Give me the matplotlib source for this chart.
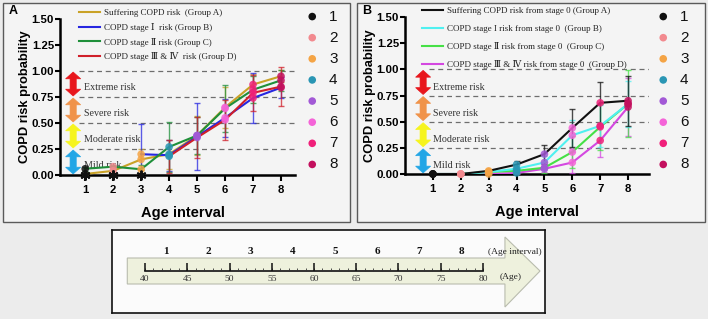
import matplotlib
matplotlib.use('Agg')
import matplotlib.pyplot as plt
import numpy as np
from matplotlib.patches import Rectangle, Polygon

W, H = 708, 319
DPI = 100

# ---------------- data ----------------
intervals = [1, 2, 3, 4, 5, 6, 7, 8]
point_colors = ['#111111', '#f28a8f', '#f4a445', '#2a96b4',
                '#a259d6', '#f464d8', '#f0207a', '#c3105e']

zone_bounds = [0.0, 0.25, 0.5, 0.75, 1.0]
zone_names = ['Mild risk', 'Moderate risk', 'Severe risk', 'Extreme risk']
zone_colors = ['#22a6e6', '#f6f41e', '#f0934a', '#e8161c']

# Panel A
a_labels = ['Suffering COPD risk  (Group A)', 'COPD stage Ⅰ  risk (Group B)',
            'COPD stage Ⅱ risk (Group C)', 'COPD stage Ⅲ & Ⅳ  risk (Group D)']
a_colors = ['#c9a227', '#2626e0', '#1f8f3a', '#d0202a']
a_A = [0.01, 0.04, 0.15, 0.20, 0.38, 0.65, 0.87, 0.95]
a_A_err = [0.01, 0.03, 0.10, 0.14, 0.19, 0.20, 0.10, 0.06]
a_B = [0.0, 0.0, 0.20, 0.19, 0.37, 0.55, 0.74, 0.84]
a_B_err = [0, 0, 0.29, 0.15, 0.32, 0.18, 0.24, 0.10]
a_C = [0.06, 0.08, 0.055, 0.27, 0.38, 0.64, 0.82, 0.91]
a_C_err = [0.02, 0.02, 0.04, 0.24, 0.18, 0.23, 0.13, 0.10]
a_D = [0.0, 0.0, 0.0, 0.18, 0.36, 0.53, 0.79, 0.85]
a_D_err = [0, 0, 0, 0.16, 0.20, 0.19, 0.17, 0.19]

# Panel B
b_labels = ['Suffering COPD risk from stage 0 (Group A)',
            'COPD stage I risk from stage 0  (Group B)',
            'COPD stage Ⅱ risk from stage 0  (Group C)',
            'COPD stage Ⅲ & Ⅳ risk from stage 0  (Group D)']
b_colors = ['#111111', '#4ff0f0', '#46e046', '#d448e0']
b_A = [0.0, 0.0, 0.03, 0.09, 0.19, 0.44, 0.68, 0.70]
b_A_err = [0, 0, 0.01, 0.03, 0.09, 0.18, 0.20, 0.24]
b_B = [0.0, 0.0, 0.02, 0.05, 0.11, 0.37, 0.46, 0.67]
b_B_err = [0, 0, 0.01, 0.02, 0.06, 0.15, 0.20, 0.22]
b_C = [0.0, 0.0, 0.02, 0.03, 0.06, 0.21, 0.45, 0.67]
b_C_err = [0, 0, 0.01, 0.02, 0.05, 0.15, 0.22, 0.32]
b_D = [0.0, 0.0, 0.0, 0.01, 0.05, 0.11, 0.32, 0.64]
b_D_err = [0, 0, 0, 0.01, 0.03, 0.10, 0.16, 0.28]

y_ticks = [0.0, 0.25, 0.5, 0.75, 1.0, 1.25, 1.5]

ages = [40, 45, 50, 55, 60, 65, 70, 75, 80]
interval_labels = ['1', '2', '3', '4', '5', '6', '7', '8']

SANS = ['Liberation Sans', 'DejaVu Sans']
SERIF = ['Liberation Serif', 'DejaVu Serif', 'Noto Sans CJK SC']

# ---------------- figure ----------------
fig = plt.figure(figsize=(W / DPI, H / DPI), dpi=DPI)
fig.patch.set_facecolor('#ececec')


def fr(x0, y0, x1, y1):
    return [x0 / W, 1 - y1 / H, (x1 - x0) / W, (y1 - y0) / H]


def panel_box(x0, y0, x1, y1, fc, ec, lw):
    fig.patches.append(Rectangle((x0 / W, 1 - y1 / H), (x1 - x0) / W, (y1 - y0) / H,
                                 transform=fig.transFigure, facecolor=fc,
                                 edgecolor=ec, linewidth=lw, zorder=-10))


panel_box(3, 3, 350, 222, '#f4f4f4', '#5a5a5a', 1.0)
panel_box(357, 3, 705, 222, '#f4f4f4', '#5a5a5a', 1.0)


def draw_panel(rect, xlim, groups, errs, colors, labels, letter, letter_xy,
               arrow_x, text_x, text_dy, leg_xy, leg_spacing, num_rect,
               ylab_x, xlab_x, stars, order):
    ax = fig.add_axes(fr(*rect))
    ax.set_facecolor('none')
    ax.set_xlim(*xlim)
    ax.set_ylim(0, 1.5)
    for s in ['top', 'right']:
        ax.spines[s].set_visible(False)
    for s in ['left', 'bottom']:
        ax.spines[s].set_linewidth(1.8)
    ax.set_yticks(y_ticks)
    ax.set_yticklabels(['%.2f' % v for v in y_ticks])
    ax.set_xticks(intervals)
    ax.tick_params(direction='out', length=3.5, width=1.5, pad=0.8)
    ax.tick_params(axis='x', length=4, pad=3.5)
    for lab in ax.get_xticklabels() + ax.get_yticklabels():
        lab.set_fontfamily(SANS)
        lab.set_fontweight('bold')
        lab.set_fontsize(8.2)
    ax.set_ylabel('COPD risk probability', fontfamily=SANS, fontweight='bold', fontsize=9.3)
    ax.yaxis.set_label_coords(ylab_x, 0.5)
    ax.set_xlabel('Age interval', fontfamily=SANS, fontweight='bold', fontsize=10.5)
    ax.xaxis.set_label_coords(xlab_x, -0.20)

    # dashed threshold lines
    ax.hlines(zone_bounds[1:], arrow_x + 0.2, xlim[1], colors='#6e6e6e',
              linestyles=(0, (4, 3)), linewidth=0.9, zorder=1)

    # zone double arrows
    sw, hw, hl = 0.11, 0.27, 0.065
    for lo, hi, c, name in zip(zone_bounds[:-1], zone_bounds[1:], zone_colors, zone_names):
        top = hi - 0.01
        bot = lo + 0.01
        xs = [arrow_x, arrow_x + hw, arrow_x + sw, arrow_x + sw, arrow_x + hw,
              arrow_x, arrow_x - hw, arrow_x - sw, arrow_x - sw, arrow_x - hw]
        ys = [top, top - hl, top - hl, bot + hl, bot + hl,
              bot, bot + hl, bot + hl, top - hl, top - hl]
        ax.add_patch(Polygon(list(zip(xs, ys)), closed=True, facecolor=c,
                             edgecolor=c, linewidth=0.5, zorder=2, clip_on=False))
        ax.text(text_x, (lo + hi) / 2 - text_dy, name, fontfamily=SERIF,
                fontsize=7.2, color='#333333', va='center', ha='left', zorder=2)

    # series
    handles = [None] * len(groups)
    for k in order:
        vals, err, c, lab = groups[k], errs[k], colors[k], labels[k]
        x = np.array(intervals, dtype=float)
        v = np.array(vals, dtype=float)
        e = np.array(err, dtype=float)
        if stars:
            first = int(np.argmax(v > 0))
        else:
            first = 0
        m = e > 0
        ax.errorbar(x[m], v[m], yerr=e[m], fmt='none', ecolor=c, elinewidth=1.0,
                    capsize=2.5, capthick=1.0, alpha=0.75, zorder=3)
        ln, = ax.plot(x[first:], v[first:], color=c, linewidth=1.5, zorder=4, label=lab)
        handles[k] = ln
        ax.scatter(x[first:], v[first:], s=30,
                   c=[point_colors[i] for i in range(first, len(x))],
                   alpha=0.85, linewidths=0, zorder=5, clip_on=False)
        if stars and first > 0:
            ax.plot(x[:first], v[:first], linestyle='none', marker=(6, 2, 0),
                    markersize=7, markeredgewidth=1.4, color='#111111',
                    zorder=6, clip_on=False)

    leg = ax.legend(handles=handles, loc='upper left',
                    bbox_to_anchor=(leg_xy[0] / W, 1 - leg_xy[1] / H),
                    bbox_transform=fig.transFigure, frameon=False,
                    prop={'family': SERIF, 'size': 6.5}, handlelength=2.3,
                    handletextpad=0.5, labelspacing=leg_spacing, borderpad=0,
                    borderaxespad=0)
    for t in leg.get_texts():
        t.set_color('#222222')

    # number legend
    axn = fig.add_axes(fr(*num_rect))
    axn.set_axis_off()
    axn.set_xlim(0, 1)
    axn.set_ylim(8.5, 0.5)
    axn.scatter([0.22] * len(intervals), intervals, s=30, c=point_colors, linewidths=0)
    for i, lab in zip(intervals, interval_labels):
        axn.text(0.72, i, lab, fontfamily=SANS, fontsize=11, ha='center',
                 va='center', color='#111111')

    fig.text(letter_xy[0] / W, 1 - letter_xy[1] / H, letter, fontfamily=SANS,
             fontweight='bold', fontsize=9, ha='left', va='center')
    return ax


draw_panel((60, 19, 295, 175), (0.1, 8.5),
           [a_A, a_B, a_C, a_D], [a_A_err, a_B_err, a_C_err, a_D_err],
           a_colors, a_labels, 'A', (9, 11), 0.57, 0.97, 0.035,
           (79, 9), 0.62, (303, 6, 345, 175), -0.125, 0.525, True, [0, 1, 2, 3])

draw_panel((405, 17, 649, 174), (0.0, 8.75),
           [b_A, b_B, b_C, b_D], [b_A_err, b_B_err, b_C_err, b_D_err],
           b_colors, b_labels, 'B', (362, 11), 0.65, 0.99, 0.045,
           (422, 7), 1.0, (654, 6, 696, 175), -0.118, 0.54, False, [3, 2, 1, 0])

# ---------------- bottom age scale ----------------
axs = fig.add_axes(fr(112, 230, 545, 313))
axs.set_facecolor('#fbfbfb')
axs.set_xticks([])
axs.set_yticks([])
for s in axs.spines.values():
    s.set_linewidth(1.2)
    s.set_color('#111111')
axs.set_xlim(36.09, 87.34)
axs.set_ylim(83, 0)

body_top, body_bot, head_top, head_bot, mid = 28, 54, 7, 77, 41
x_start, x_head, x_tip = 37.9, 82.6, 86.75
arrow = Polygon([(x_start, body_top), (x_head, body_top), (x_head, head_top),
                 (x_tip, mid), (x_head, head_bot), (x_head, body_bot),
                 (x_start, body_bot)], closed=True, facecolor='#eef1dd',
                edgecolor='#b9bcae', linewidth=0.8, zorder=1)
axs.add_patch(arrow)

axs.plot([ages[0], ages[-1]], [mid, mid], color='#111111', linewidth=1.2, zorder=3)
minor = np.arange(ages[0], ages[-1] + 1, 1)
axs.vlines(minor, mid - 3.5, mid, color='#333333', linewidth=0.6, zorder=3)
axs.vlines(ages, mid - 8, mid, color='#111111', linewidth=1.1, zorder=3)
for a in ages:
    axs.text(a, mid + 8, str(a), fontfamily=SERIF, fontsize=6.8, ha='center',
             va='center', color='#333333', zorder=4)
for a0, a1, lab in zip(ages[:-1], ages[1:], interval_labels):
    axs.text((a0 + a1) / 2, 22, lab, fontfamily=SERIF, fontsize=8,
             fontweight='bold', ha='center', va='center', color='#111111', zorder=4)
axs.text(ages[-1] + 0.6, 22, '(Age interval)', fontfamily=SERIF, fontsize=6.8,
         ha='left', va='center', color='#222222', zorder=4)
axs.text(ages[-1] + 2.0, 47, '(Age)', fontfamily=SERIF, fontsize=6.8,
         ha='left', va='center', color='#222222', zorder=4)

fig.savefig('out.png', dpi=DPI, facecolor=fig.get_facecolor())
